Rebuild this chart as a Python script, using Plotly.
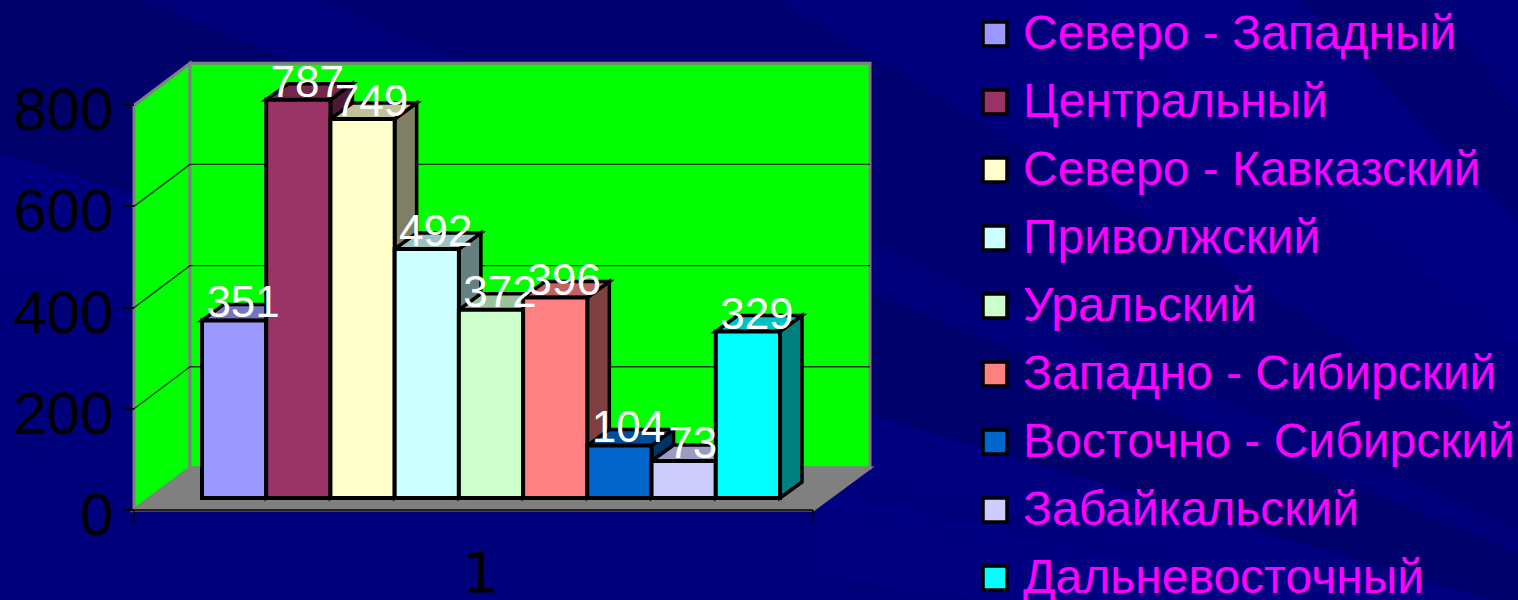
import plotly.graph_objects as go

# ---- data ----
REGIONS = ["Северо - Западный", "Центральный", "Северо - Кавказский", "Приволжский", "Уральский",
           "Западно - Сибирский", "Восточно - Сибирский", "Забайкальский", "Дальневосточный"]
VALUES = [351, 787, 749, 492, 372, 396, 104, 73, 329]
COLORS = ["#9999FF", "#993366", "#FFFFCC", "#CCFFFF", "#CCFFCC", "#FF8080", "#0066CC", "#CCCCFF", "#00FFFF"]
Y_TICKS = [0, 200, 400, 600, 800]
CATEGORY = [1]

# ---- page geometry (pixels) ----
W, H = 1518, 600
PX_PER_UNIT = 0.506
FRONT_Y0, BAR_Y0, BACK_Y0 = 510, 498, 468
FRONT_L, FRONT_R, BACK_L, BACK_R = 134, 813, 190, 870
GROUP_L, GROUP_R, CAT_PX = 202, 780, 480
DEPTH_X, DEPTH_Y = 22, 16
GROUP_W = GROUP_R - GROUP_L


def px(x):
    return x / W


def py(y):
    return 1 - y / H


def shade(hex_color, k):
    r, g, b = (int(hex_color[i:i + 2], 16) for i in (1, 3, 5))
    return f"rgb({int(r * k)},{int(g * k)},{int(b * k)})"


def poly(points):
    return "M " + " L ".join(f"{a},{b}" for a, b in points) + " Z"


shapes = []

# background fan of streaks, radiating from a point below right of the page
FAN = (2060, 770)
STREAKS = [
    ((-10, -60), (-10, 150), "rgba(0,0,40,0.18)"),
    ((-10, 150), (-10, 262), "rgba(0,0,160,0.20)"),
    ((-10, 262), (-10, 330), "rgba(0,0,150,0.08)"),
    ((300, -10), (760, -10), "rgba(0,0,40,0.12)"),
    ((760, -10), (1060, -10), "rgba(0,0,150,0.08)"),
    ((1060, -10), (1290, -10), "rgba(0,0,170,0.20)"),
    ((1290, -10), (1420, -10), "rgba(0,0,40,0.10)"),
    ((820, 488), (820, 575), "rgba(0,0,170,0.14)"),
]
for a, b, c in STREAKS:
    pts = [(px(x), py(y)) for x, y in (FAN, a, b)]
    shapes.append(dict(type="path", path=poly(pts), xref="paper", yref="paper",
                       fillcolor=c, line_width=0, layer="below"))

# walls and floor
GREY, GREEN = "#808080", "#00FF00"
wall_h = max(Y_TICKS) * PX_PER_UNIT
for pts, fill in [
    ([(FRONT_L, FRONT_Y0), (FRONT_L, FRONT_Y0 - wall_h), (BACK_L, BACK_Y0 - wall_h), (BACK_L, BACK_Y0)], GREEN),
    ([(BACK_L, BACK_Y0), (BACK_L, BACK_Y0 - wall_h), (BACK_R, BACK_Y0 - wall_h), (BACK_R, BACK_Y0)], GREEN),
    ([(FRONT_L, FRONT_Y0), (BACK_L, BACK_Y0), (BACK_R, BACK_Y0), (FRONT_R, FRONT_Y0)], GREY),
]:
    shapes.append(dict(type="path", path=poly([(px(a), py(b)) for a, b in pts]), xref="paper", yref="paper",
                       fillcolor=fill, line=dict(color=GREY, width=3), layer="below"))
for t in Y_TICKS[1:-1]:
    d = t * PX_PER_UNIT
    for (x0, y0), (x1, y1) in [((FRONT_L, FRONT_Y0 - d), (BACK_L, BACK_Y0 - d)),
                               ((BACK_L, BACK_Y0 - d), (BACK_R, BACK_Y0 - d))]:
        shapes.append(dict(type="line", x0=px(x0), x1=px(x1), y0=py(y0), y1=py(y1), xref="paper", yref="paper",
                           line=dict(color="#0A3A0A", width=1.4), layer="below"))
# category axis line and its end ticks
shapes.append(dict(type="line", x0=px(FRONT_L), x1=px(FRONT_R), y0=py(FRONT_Y0), y1=py(FRONT_Y0),
                   xref="paper", yref="paper", line=dict(color="#000000", width=1.5), layer="below"))
for xp in (FRONT_L, FRONT_R):
    shapes.append(dict(type="line", x0=px(xp), x1=px(xp), y0=py(FRONT_Y0), y1=py(FRONT_Y0 + 12),
                       xref="paper", yref="paper", line=dict(color="#000000", width=1.5), layer="below"))

# data coordinates
x_per_px = 1 / GROUP_W
x_at = lambda p: CATEGORY[0] + (p - CAT_PX) * x_per_px
bar_w = 1 / len(VALUES)
left0 = x_at(GROUP_L)
dx, dy = DEPTH_X * x_per_px, DEPTH_Y / PX_PER_UNIT

fig = go.Figure()
for i, (name, v, c) in enumerate(zip(REGIONS, VALUES, COLORS)):
    l = left0 + i * bar_w
    r = l + bar_w
    offset = l - CATEGORY[0]
    for pts, k in [([(r, 0), (r + dx, dy), (r + dx, v + dy), (r, v)], 0.5),
                   ([(l, v), (r, v), (r + dx, v + dy), (l + dx, v + dy)], 0.76)]:
        shapes.append(dict(type="path", path=poly(pts), xref="x", yref="y", fillcolor=shade(c, k),
                           line=dict(color="#000000", width=3.5), layer="below"))
    fig.add_trace(go.Bar(x=CATEGORY, y=[v], name=name, width=[bar_w], offset=[offset],
                         marker=dict(color=c, line=dict(color="#000000", width=4)),
                         hoverinfo="name+y"))

# data labels
LABEL_DX, LABEL_DY = 9, 14
fig.add_trace(go.Scatter(
    x=[left0 + (i + 0.5) * bar_w + LABEL_DX * x_per_px for i in range(len(VALUES))],
    y=[v + LABEL_DY / PX_PER_UNIT for v in VALUES],
    text=[str(v) for v in VALUES], mode="text", textposition="middle center",
    textfont=dict(family="Liberation Sans", size=44, color="#FFFFFF"),
    cliponaxis=False, hoverinfo="skip"))

# carrier for the value axis
fig.add_trace(go.Scatter(x=[CATEGORY[0]] * len(Y_TICKS), y=Y_TICKS, yaxis="y2", mode="markers",
                         marker=dict(opacity=0), hoverinfo="skip"))

# legend block
LEG_SWATCH_X, LEG_TEXT_X, LEG_Y0, LEG_STEP, LEG_TEXT_DY = 995, 1023, 34, 68, 3
leg_y = [LEG_Y0 + i * LEG_STEP for i in range(len(REGIONS))]
fig.add_trace(go.Scatter(x=[LEG_SWATCH_X] * len(REGIONS), y=leg_y, xaxis="x2", yaxis="y3", mode="markers",
                         marker=dict(symbol="square", size=24, color=COLORS, line=dict(color="#000000", width=3.5)),
                         hoverinfo="skip", cliponaxis=False))
fig.add_trace(go.Scatter(x=[LEG_TEXT_X] * len(REGIONS), y=[v + LEG_TEXT_DY for v in leg_y], xaxis="x2", yaxis="y3",
                         mode="text", text=REGIONS, textposition="middle right",
                         textfont=dict(family="Liberation Sans", size=48, color="#FF00FF"),
                         hoverinfo="skip", cliponaxis=False))

domain_y = [(H - FRONT_Y0) / H, 1]
fig.update_layout(
    template="none",
    width=W, height=H, autosize=False, margin=dict(l=0, r=0, t=0, b=0, pad=0),
    paper_bgcolor="#00007A", plot_bgcolor="rgba(0,0,0,0)", showlegend=False, barmode="overlay",
    shapes=shapes,
    xaxis=dict(domain=[0, 1], range=[x_at(0), x_at(W)], tickvals=CATEGORY, ticktext=["1"], ticks="",
               showgrid=False, zeroline=False, showline=False, ticklabelstandoff=25, automargin=False,
               tickfont=dict(family="DejaVu Sans", size=56, color="#000000")),
    yaxis=dict(domain=domain_y, range=[-(FRONT_Y0 - BAR_Y0) / PX_PER_UNIT, BAR_Y0 / PX_PER_UNIT],
               visible=False, showgrid=False, zeroline=False, automargin=False),
    yaxis2=dict(overlaying="y", anchor="free", position=px(FRONT_L), side="left",
                range=[0, FRONT_Y0 / PX_PER_UNIT], tickvals=Y_TICKS, ticks="outside", ticklen=11,
                tickwidth=1.5, tickcolor="#000000", showgrid=False, zeroline=False, showline=False,
                automargin=False, ticklabelstandoff=-2, ticklabelshift=4,
                tickfont=dict(family="Liberation Sans", size=60, color="#000000")),
    xaxis2=dict(domain=[0, 1], range=[0, W], visible=False, overlaying="x", anchor="y3", automargin=False),
    yaxis3=dict(domain=[0, 1], range=[H, 0], visible=False, anchor="x2", automargin=False),
)
fig.write_html("out.html", config={"displayModeBar": False},
               post_script="document.body.style.margin='0';document.body.style.overflow='hidden';")
